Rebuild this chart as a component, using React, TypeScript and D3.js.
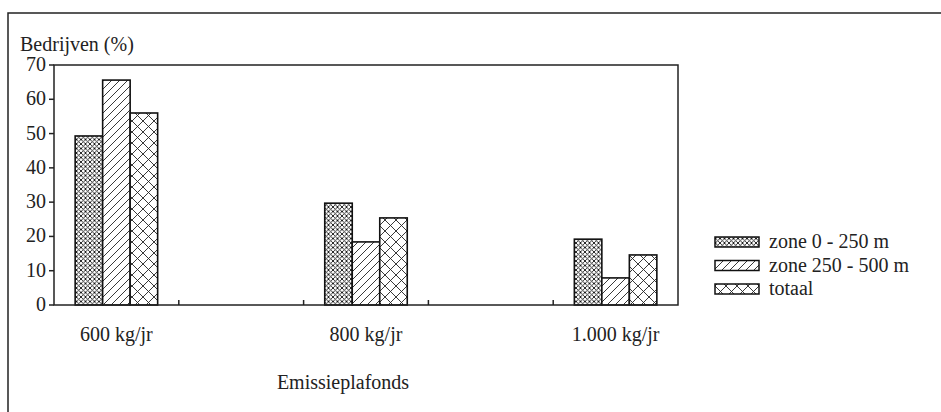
import React from "react";
import * as d3 from "d3";

const categories = ["600 kg/jr", "", "800 kg/jr", "", "1.000 kg/jr"];
const seriesNames = ["zone 0 - 250 m", "zone 250 - 500 m", "totaal"];
const zone0_250 = [49.3, null, 29.7, null, 19.2];
const zone250_500 = [65.6, null, 18.4, null, 7.9];
const totaal = [56, null, 25.4, null, 14.6];
const yTicks = [0, 10, 20, 30, 40, 50, 60, 70];
const patternIds = ["pDense", "pDiag", "pCross"];

export default function App() {
  const W = 941, H = 412;
  const left = 54, right = 678, top = 65, bottom = 305;
  const x = d3.scaleBand<number>().domain(d3.range(categories.length)).range([left, right]).paddingInner(0).paddingOuter(0);
  const y = d3.scaleLinear().domain([0, 70]).range([bottom, top]);
  const series = [zone0_250, zone250_500, totaal];
  const barW = 27.5;
  const font = "Liberation Serif";
  const bw = x.bandwidth();
  const ts = { fontFamily: font, fontSize: 20 } as React.CSSProperties;

  return (
    <svg width={W} height={H} style={{ position: "absolute", left: 0, top: 0, background: "#fff" }}>
      <defs>
        <pattern id="pDense" patternUnits="userSpaceOnUse" width={4.5} height={4.5}>
          <rect width={4.5} height={4.5} fill="#fff" />
          <path d="M0,0 L4.5,4.5 M4.5,0 L0,4.5" stroke="#111" strokeWidth={0.9} />
        </pattern>
        <pattern id="pDiag" patternUnits="userSpaceOnUse" width={8} height={8}>
          <rect width={8} height={8} fill="#fff" />
          <path d="M0,8 L8,0 M-2,2 L2,-2 M6,10 L10,6" stroke="#222" strokeWidth={0.9} />
        </pattern>
        <pattern id="pCross" patternUnits="userSpaceOnUse" width={11} height={11}>
          <rect width={11} height={11} fill="#fff" />
          <path d="M0,0 L11,11 M11,0 L0,11" stroke="#222" strokeWidth={0.9} />
        </pattern>
      </defs>
      <rect x={8} y={13} width={1000} height={600} fill="none" stroke="#222" strokeWidth={1.5} />
      <text x={20} y={51} style={ts} fill="#222">Bedrijven (%)</text>
      {categories.map((c, i) =>
        series.map((s, k) => {
          const v = s[i];
          if (v == null) return null;
          const cx = (x(i) as number) + bw / 2;
          const bx = cx - (barW * 3) / 2 + k * barW;
          return (
            <rect key={`${i}-${k}`} x={bx} y={y(v)} width={barW} height={y(0) - y(v)}
              fill={`url(#${patternIds[k]})`} stroke="#111" strokeWidth={1.6} />
          );
        })
      )}
      <rect x={left} y={top} width={right - left} height={bottom - top} fill="none" stroke="#222" strokeWidth={1.5} />
      {yTicks.map((t) => (
        <g key={t}>
          <line x1={left - 5} x2={left} y1={y(t)} y2={y(t)} stroke="#222" strokeWidth={1.5} />
          <text x={left - 8} y={y(t) + 6} style={ts} textAnchor="end" fill="#222">{t}</text>
        </g>
      ))}
      {d3.range(1, categories.length).map((i) => (
        <line key={i} x1={x(i) as number} x2={x(i) as number} y1={bottom} y2={bottom - 5} stroke="#222" strokeWidth={1.5} />
      ))}
      {categories.map((c, i) => (
        <text key={i} x={(x(i) as number) + bw / 2} y={bottom + 36} style={ts} textAnchor="middle" fill="#222">{c}</text>
      ))}
      <text x={(left + right) / 2 - 23} y={389} style={ts} textAnchor="middle" fill="#222">Emissieplafonds</text>
      {seriesNames.map((n, k) => (
        <g key={n}>
          <rect x={715} y={237 + k * 23.5} width={44} height={10} fill={`url(#${patternIds[k]})`} stroke="#111" strokeWidth={1.5} />
          <text x={769} y={248 + k * 23.5} style={ts} fill="#222">{n}</text>
        </g>
      ))}
    </svg>
  );
}
